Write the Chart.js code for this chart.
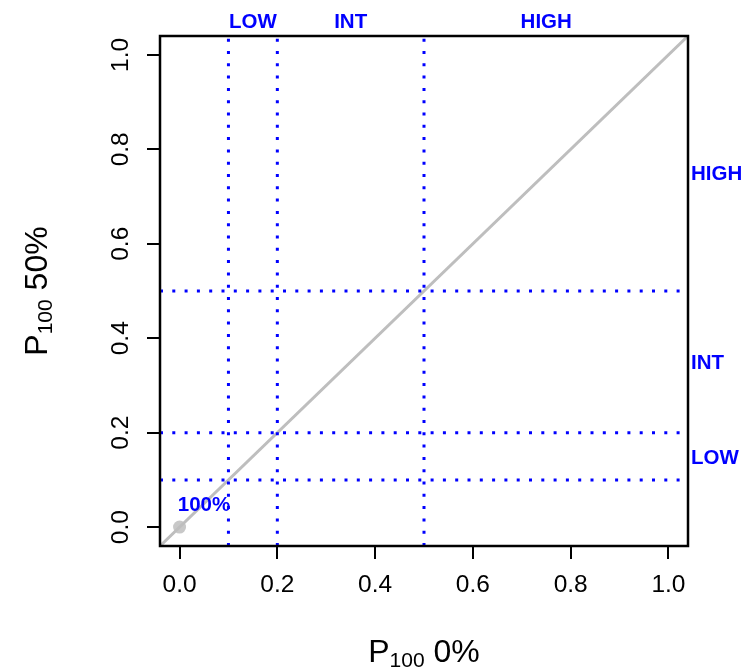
<!DOCTYPE html>
<html>
<head>
<meta charset="utf-8">
<script src="https://cdn.jsdelivr.net/npm/chart.js@4"></script>
<style>
  body { margin: 0; background: #fff; }
</style>
</head>
<body>
<canvas id="chart" width="747" height="670"></canvas>
<script>
// axis range and ticks (R style, 4% padding)
var axisMin = -0.04;
var axisMax = 1.04;
var tickValues = [0.0, 0.2, 0.4, 0.6, 0.8, 1.0];

// cut-off lines and zone labels
var cutoffs = [0.1, 0.2, 0.5];
var zoneNames = ['LOW', 'INT', 'HIGH'];
var zoneMids = [0.15, 0.35, 0.75];

// reference point
var refX = [0];
var refY = [0];
var refText = '100%';
var refTextPos = [0.05, 0.05];

var FONT = "'Liberation Sans', Arial, Helvetica, sans-serif";
var BLUE = '#0000ff';

var datasets = [];
cutoffs.forEach(function (c) {
    datasets.push({
        data: [{ x: c, y: axisMin }, { x: c, y: axisMax }],
        showLine: true, borderColor: BLUE, borderWidth: 3,
        borderDash: [3, 9.3], pointRadius: 0
    });
    datasets.push({
        data: [{ x: axisMin, y: c }, { x: axisMax, y: c }],
        showLine: true, borderColor: BLUE, borderWidth: 3,
        borderDash: [3, 9.3], pointRadius: 0
    });
});
datasets.push({
    data: [{ x: axisMin, y: axisMin }, { x: axisMax, y: axisMax }],
    showLine: true, borderColor: '#bebebe', borderWidth: 3, pointRadius: 0
});
datasets.push({
    data: refX.map(function (v, i) { return { x: v, y: refY[i] }; }),
    showLine: false, pointRadius: 6.5, pointBackgroundColor: '#c8c8c8',
    pointBorderColor: '#c8c8c8', pointBorderWidth: 0
});

function setTicks(scale) {
    scale.ticks = tickValues.map(function (v) { return { value: v }; });
}

var decor = {
    id: 'decor',
    afterDatasetsDraw: function (chart) {
        var ctx = chart.ctx;
        var a = chart.chartArea;
        var xs = chart.scales.x, ys = chart.scales.y;
        ctx.save();
        // box
        ctx.strokeStyle = '#000';
        ctx.lineWidth = 2.5;
        ctx.strokeRect(a.left, a.top, a.right - a.left, a.bottom - a.top);

        // tick labels
        ctx.fillStyle = '#000';
        ctx.font = '24.5px ' + FONT;
        ctx.textAlign = 'center';
        ctx.textBaseline = 'alphabetic';
        tickValues.forEach(function (v) {
            ctx.fillText(v.toFixed(1), xs.getPixelForValue(v), 592);
            ctx.save();
            ctx.translate(128, ys.getPixelForValue(v));
            ctx.rotate(-Math.PI / 2);
            ctx.fillText(v.toFixed(1), 0, 0);
            ctx.restore();
        });

        // axis titles with subscript
        function title(main1, sub, main2) {
            ctx.font = '32px ' + FONT;
            var w1 = ctx.measureText(main1).width;
            var w3 = ctx.measureText(main2).width;
            ctx.font = '21px ' + FONT;
            var w2 = ctx.measureText(sub).width;
            var start = -(w1 + w2 + w3) / 2;
            ctx.textAlign = 'left';
            ctx.font = '32px ' + FONT;
            ctx.fillText(main1, start, 0);
            ctx.font = '21px ' + FONT;
            ctx.fillText(sub, start + w1, 5);
            ctx.font = '32px ' + FONT;
            ctx.fillText(main2, start + w1 + w2, 0);
        }
        ctx.save();
        ctx.translate((a.left + a.right) / 2, 662);
        title('P', '100', ' 0%');
        ctx.restore();
        ctx.save();
        ctx.translate(47, (a.top + a.bottom) / 2);
        ctx.rotate(-Math.PI / 2);
        title('P', '100', ' 50%');
        ctx.restore();

        // zone labels
        ctx.fillStyle = BLUE;
        ctx.font = 'bold 20.5px ' + FONT;
        ctx.textAlign = 'center';
        zoneNames.forEach(function (name, i) {
            ctx.fillText(name, xs.getPixelForValue(zoneMids[i]), 28);
        });
        ctx.textAlign = 'left';
        zoneNames.forEach(function (name, i) {
            ctx.fillText(name, a.right + 3, ys.getPixelForValue(zoneMids[i]) + 7.5);
        });
        ctx.textAlign = 'center';
        ctx.fillText(refText, xs.getPixelForValue(refTextPos[0]), ys.getPixelForValue(refTextPos[1]) + 7.5);
        ctx.restore();
    }
};

var tickGrid = {
    drawOnChartArea: false,
    drawTicks: true,
    tickLength: 13,
    color: '#000',
    lineWidth: 2
};

new Chart(document.getElementById('chart').getContext('2d'), {
    type: 'scatter',
    data: { datasets: datasets },
    options: {
        responsive: false,
        animation: false,
        layout: { padding: { top: 36, right: 59, left: 0, bottom: 0 } },
        plugins: { legend: { display: false }, tooltip: { enabled: false } },
        scales: {
            x: {
                type: 'linear', min: axisMin, max: axisMax,
                afterBuildTicks: setTicks,
                afterFit: function (s) { s.height = 124; },
                ticks: { display: false },
                grid: tickGrid,
                border: { display: false }
            },
            y: {
                type: 'linear', min: axisMin, max: axisMax,
                afterBuildTicks: setTicks,
                afterFit: function (s) { s.width = 160; },
                ticks: { display: false },
                grid: tickGrid,
                border: { display: false }
            }
        }
    },
    plugins: [decor]
});
</script>
</body>
</html>
